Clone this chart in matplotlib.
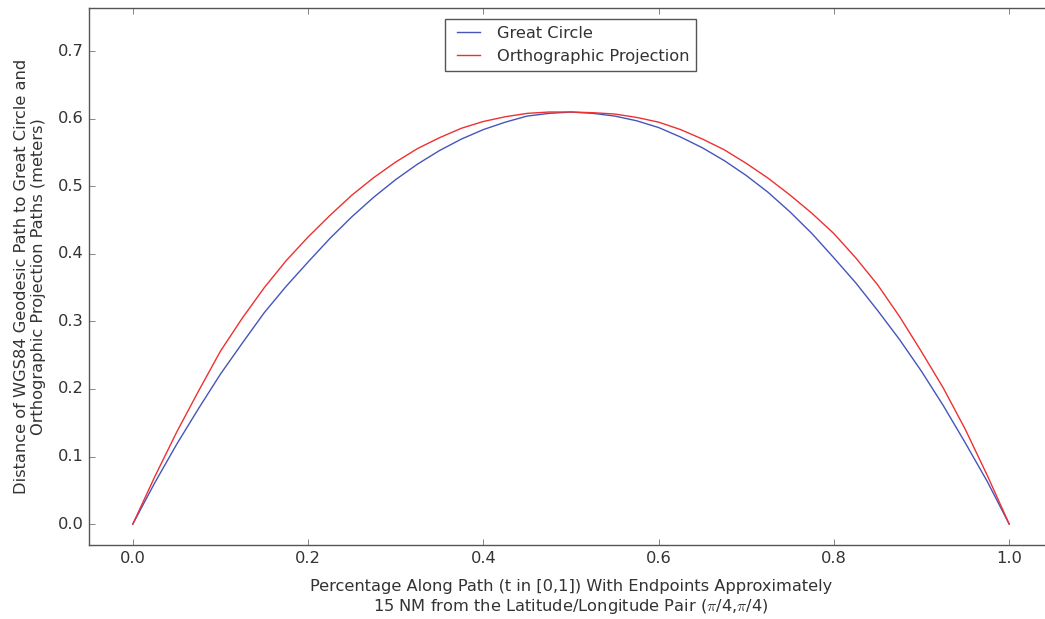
import matplotlib
matplotlib.use("Agg")
import matplotlib.pyplot as plt

# fraction along the path
t_vals = [0.0, 0.025, 0.05, 0.075, 0.1, 0.125, 0.15, 0.175, 0.2, 0.225, 0.25,
          0.275, 0.3, 0.325, 0.35, 0.375, 0.4, 0.425, 0.45, 0.475, 0.5,
          0.525, 0.55, 0.575, 0.6, 0.625, 0.65, 0.675, 0.7, 0.725, 0.75,
          0.775, 0.8, 0.825, 0.85, 0.875, 0.9, 0.925, 0.95, 0.975, 1.0]

# distance (m) from the geodesic to the great circle path
great_circle = [0.0, 0.061, 0.118, 0.171, 0.222, 0.268, 0.313, 0.352, 0.388, 0.423, 0.455,
                0.484, 0.510, 0.533, 0.553, 0.570, 0.584, 0.595, 0.604, 0.608, 0.610,
                0.608, 0.604, 0.597, 0.587, 0.573, 0.557, 0.538, 0.516, 0.491, 0.462,
                0.430, 0.394, 0.357, 0.316, 0.273, 0.226, 0.175, 0.120, 0.063, 0.0]

# distance (m) from the geodesic to the orthographic projection path
ortho = [0.0, 0.070, 0.136, 0.197, 0.256, 0.305, 0.350, 0.390, 0.425, 0.457, 0.487,
         0.513, 0.536, 0.556, 0.572, 0.586, 0.596, 0.603, 0.608, 0.610, 0.610,
         0.609, 0.607, 0.602, 0.595, 0.584, 0.570, 0.554, 0.534, 0.512, 0.487,
         0.460, 0.430, 0.394, 0.354, 0.307, 0.255, 0.201, 0.140, 0.072, 0.0]

plt.style.use("classic")
plt.rcParams["font.family"] = "DejaVu Sans"

fig = plt.figure(figsize=(10.45, 6.19), dpi=100, facecolor="white")
# the axes run slightly past the right edge of the figure, as in the source image
ax = fig.add_axes([89 / 1045, 74 / 619, 964 / 1045, 537 / 619])

ax.plot(t_vals, great_circle, color="#4455bb", lw=1.0, label="Great Circle")
ax.plot(t_vals, ortho, color="#ee3030", lw=1.0, label="Orthographic Projection")

ax.set_xlim(-0.05, 1.05)
ax.set_ylim(-0.031, 0.764)
ax.set_xticks([0.0, 0.2, 0.4, 0.6, 0.8, 1.0])
ax.set_yticks([0.0, 0.1, 0.2, 0.3, 0.4, 0.5, 0.6, 0.7])
ax.tick_params(labelsize=11.7, colors="#555555", labelcolor="#333333")
for sp in ax.spines.values():
    sp.set_color("#555555")
ax.spines["right"].set_visible(False)

ax.set_xlabel("Percentage Along Path (t in [0,1]) With Endpoints Approximately\n"
              r"15 NM from the Latitude/Longitude Pair ($\pi$/4,$\pi$/4)",
              fontsize=11.7, color="#333333", labelpad=10)
ax.set_ylabel("Distance of WGS84 Geodesic Path to Great Circle and\n"
              "Orthographic Projection Paths (meters)",
              fontsize=11.7, color="#333333", linespacing=1.2, labelpad=8)

leg = ax.legend(loc="upper center", fontsize=11.7, borderaxespad=0.7)
leg.get_frame().set_edgecolor("#555555")
for txt in leg.get_texts():
    txt.set_color("#333333")

fig.savefig("out.png", dpi=100)
